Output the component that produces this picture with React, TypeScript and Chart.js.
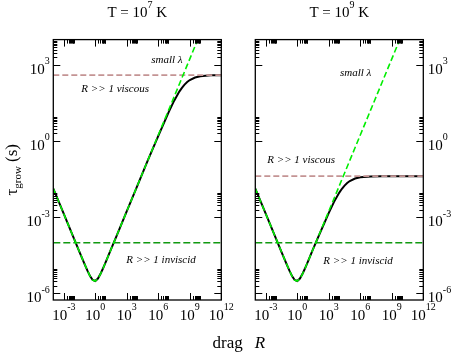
import React, { useEffect, useRef } from "react";
import { Chart, registerables } from "chart.js";

Chart.register(...registerables);

// ---------- data ----------
// drag R sample points (shared by the "small lambda" curve)
const dragR = [
  1e-4, 1e-3, 1e-2, 3.16e-2, 1e-1, 1.78e-1, 3.16e-1, 5.62e-1, 1, 1.78, 3.16, 5.62,
  10, 31.6, 100, 1e3, 1e4, 1e5, 1e6, 1e7, 1e8, 1e9, 1e10,
];
// small-lambda growth time (green dashed), same in both panels
const smallLambdaTau = [
  1.35e-2, 1.35e-3, 1.35e-4, 4.27e-5, 1.37e-5, 7.9e-6, 4.82e-6, 3.38e-6, 3.09e-6, 3.85e-6, 5.92e-6, 1.0e-5,
  1.75e-5, 5.5e-5, 1.74e-4, 1.74e-3, 1.74e-2, 0.174, 1.74, 17.4, 174, 1740, 17400,
];

// full solution, T = 1e7 K
const t7R = [
  1e-4, 1e-3, 1e-2, 3.16e-2, 1e-1, 1.78e-1, 3.16e-1, 5.62e-1, 1, 1.78, 3.16, 5.62,
  10, 31.6, 100, 1e3, 1e4, 1e5, 1e6, 1e7, 3.16e7, 1e8, 1.78e8, 3.16e8, 5.62e8, 1e9, 3.16e9, 1e10, 1e11, 1e12,
];
const t7Tau = [
  1.35e-2, 1.35e-3, 1.35e-4, 4.27e-5, 1.37e-5, 7.9e-6, 4.82e-6, 3.38e-6, 3.09e-6, 3.85e-6, 5.92e-6, 1.0e-5,
  1.75e-5, 5.5e-5, 1.74e-4, 1.74e-3, 1.74e-2, 0.174, 1.62, 14.3, 38.5, 89.3, 126, 169, 213, 255, 321, 360, 390, 396,
];

// full solution, T = 1e9 K
const t9R = [
  1e-4, 1e-3, 1e-2, 3.16e-2, 1e-1, 1.78e-1, 3.16e-1, 5.62e-1, 1, 1.78, 3.16, 5.62,
  10, 31.6, 100, 1e3, 3.16e3, 1e4, 1.78e4, 3.16e4, 5.62e4, 1e5, 3.16e5, 1e6, 1e7, 1e8, 1e12,
];
const t9Tau = [
  1.35e-2, 1.35e-3, 1.35e-4, 4.27e-5, 1.37e-5, 7.9e-6, 4.82e-6, 3.38e-6, 3.09e-6, 3.85e-6, 5.92e-6, 1.0e-5,
  1.75e-5, 5.5e-5, 1.68e-4, 1.5e-3, 4.04e-3, 9.35e-3, 1.324e-2, 1.766e-2, 2.23e-2, 2.67e-2, 3.36e-2, 3.77e-2,
  4.08e-2, 4.15e-2, 4.17e-2,
];

// asymptotic levels
const lineR = [1e-4, 1e12];
const inviscidTau = [1e-4, 1e-4];
const viscousTauT7 = [400, 400];
const viscousTauT9 = [4.17e-2, 4.17e-2];

// ticks
const xMajorTicks = [1e-3, 1, 1e3, 1e6, 1e9, 1e12];
const xTickExponents = ["-3", "0", "3", "6", "9", "12"];
const yMajorTicks = [1e-6, 1e-3, 1, 1e3];
const yTickExponents = ["-6", "-3", "0", "3"];

// ---------- styling / layout ----------
const SERIF = '"Liberation Serif", "Times New Roman", Times, serif';
const W = 452;
const H = 354;
const X_MIN = 1e-4;
const X_MAX = 1e12;
const Y_MIN = 5.5e-7;
const Y_MAX = 1e4;

type Part = { t: string; size: number; dy?: number; italic?: boolean };

function richWidth(ctx: CanvasRenderingContext2D, parts: Part[]) {
  let w = 0;
  for (const p of parts) {
    ctx.font = `${p.italic ? "italic " : ""}${p.size}px ${SERIF}`;
    w += ctx.measureText(p.t).width;
  }
  return w;
}

function drawRich(
  ctx: CanvasRenderingContext2D,
  parts: Part[],
  x: number,
  y: number,
  align: "left" | "right" | "center"
) {
  const w = richWidth(ctx, parts);
  let cx = align === "left" ? x : align === "right" ? x - w : x - w / 2;
  ctx.textAlign = "left";
  ctx.textBaseline = "alphabetic";
  for (const p of parts) {
    ctx.font = `${p.italic ? "italic " : ""}${p.size}px ${SERIF}`;
    ctx.fillText(p.t, cx, y - (p.dy || 0));
    cx += ctx.measureText(p.t).width;
  }
}

function pow10(exp: string): Part[] {
  return [
    { t: "10", size: 15 },
    { t: exp, size: 10, dy: 9.5 },
  ];
}

type Note = { text: string; x: number; y: number };

type PanelCfg = {
  titleExp: string;
  side: "left" | "right";
  padding: { left: number; right: number; top: number; bottom: number };
  blackR: number[];
  blackTau: number[];
  viscousTau: number[];
  notes: Note[];
  drawGlobal: boolean;
};

const panels: PanelCfg[] = [
  {
    titleExp: "7",
    side: "left",
    padding: { left: 53.3, right: W - 221.3, top: 39.6, bottom: H - 300 },
    blackR: t7R,
    blackTau: t7Tau,
    viscousTau: viscousTauT7,
    notes: [
      { text: "small \u03bb", x: 2.14e5, y: 1622 },
      { text: "R >> 1 viscous", x: 0.0468, y: 117 },
      { text: "R >> 1 inviscid", x: 891, y: 2.0e-5 },
    ],
    drawGlobal: true,
  },
  {
    titleExp: "9",
    side: "right",
    padding: { left: 255.3, right: W - 423.3, top: 39.6, bottom: H - 300 },
    blackR: t9R,
    blackTau: t9Tau,
    viscousTau: viscousTauT9,
    notes: [
      { text: "small \u03bb", x: 1.17e4, y: 479 },
      { text: "R >> 1 viscous", x: 1.38e-3, y: 0.186 },
      { text: "R >> 1 inviscid", x: 302, y: 1.86e-5 },
    ],
    drawGlobal: false,
  },
];

function zip(xs: number[], ys: number[]) {
  return xs.map((x, i) => ({ x, y: ys[i] }));
}

function makeFramePlugin(cfg: PanelCfg) {
  return {
    id: "frame",
    afterDatasetsDraw(chart: any) {
      const { ctx, chartArea: a, scales } = chart;
      const xs = scales.x;
      const ys = scales.y;
      ctx.save();
      ctx.strokeStyle = "#000";
      ctx.lineWidth = 1;
      const tick = (x1: number, y1: number, x2: number, y2: number) => {
        ctx.beginPath();
        ctx.moveTo(x1, y1);
        ctx.lineTo(x2, y2);
        ctx.stroke();
      };
      // x ticks (bottom and top, inward)
      for (const m of xMajorTicks) {
        const vals: [number, number][] = [[m, 7]];
        for (let k = 2; k <= 9; k++) vals.push([m * k, 4]);
        for (const [v, len] of vals) {
          if (v > X_MAX * 1.0001) continue;
          const px = Math.round(xs.getPixelForValue(v)) + 0.5;
          tick(px, a.bottom, px, a.bottom - len);
          tick(px, a.top, px, a.top + len);
        }
      }
      // y ticks (left and right, inward)
      for (const m of yMajorTicks) {
        const vals: [number, number][] = [[m, 7]];
        for (let k = 2; k <= 9; k++) vals.push([m * k, 4]);
        for (const [v, len] of vals) {
          if (v > Y_MAX * 1.0001) continue;
          const py = Math.round(ys.getPixelForValue(v)) + 0.5;
          tick(a.left, py, a.left + len, py);
          tick(a.right, py, a.right - len, py);
        }
      }
      ctx.lineWidth = 1.3;
      ctx.strokeRect(a.left, a.top, a.right - a.left, a.bottom - a.top);
      ctx.restore();
    },
    afterDraw(chart: any) {
      const { ctx, chartArea: a, scales } = chart;
      const xs = scales.x;
      const ys = scales.y;
      ctx.save();
      ctx.fillStyle = "#000";
      // x tick labels
      xMajorTicks.forEach((v, i) => {
        const px = xs.getPixelForValue(v);
        drawRich(ctx, pow10(xTickExponents[i]), px, a.bottom + 19.5, "center");
      });
      // y tick labels
      yMajorTicks.forEach((v, i) => {
        const py = ys.getPixelForValue(v);
        if (cfg.side === "left") {
          drawRich(ctx, pow10(yTickExponents[i]), a.left - 3.5, py + 8.8, "right");
        } else {
          drawRich(ctx, pow10(yTickExponents[i]), a.right + 4.5, py + 8.8, "left");
        }
      });
      // title
      drawRich(
        ctx,
        [
          { t: "T = 10", size: 15 },
          { t: cfg.titleExp, size: 10, dy: 9.5 },
          { t: " K", size: 15 },
        ],
        (a.left + a.right) / 2,
        17.3,
        "center"
      );
      // annotations (data coordinates)
      for (const n of cfg.notes) {
        ctx.font = `italic 11px ${SERIF}`;
        ctx.textAlign = "left";
        ctx.textBaseline = "middle";
        ctx.fillText(n.text, xs.getPixelForValue(n.x), ys.getPixelForValue(n.y));
      }
      if (cfg.drawGlobal) {
        // x-axis title
        ctx.textBaseline = "alphabetic";
        ctx.textAlign = "left";
        ctx.font = `17px ${SERIF}`;
        const dw = ctx.measureText("drag").width;
        ctx.font = `italic 17px ${SERIF}`;
        const rw = ctx.measureText("R").width;
        const total = dw + 12 + rw;
        const cx = 238.8 - total / 2;
        ctx.font = `17px ${SERIF}`;
        ctx.fillText("drag", cx, 348);
        ctx.font = `italic 17px ${SERIF}`;
        ctx.fillText("R", cx + dw + 12, 348);
        // y-axis title (rotated)
        ctx.save();
        ctx.translate(17, (a.top + a.bottom) / 2);
        ctx.rotate(-Math.PI / 2);
        drawRich(
          ctx,
          [
            { t: "\u03c4", size: 17 },
            { t: "grow", size: 11, dy: -4 },
            { t: " (s)", size: 17 },
          ],
          0,
          0,
          "center"
        );
        ctx.restore();
      }
      ctx.restore();
    },
  };
}

function Panel({ cfg }: { cfg: PanelCfg }) {
  const ref = useRef<HTMLCanvasElement | null>(null);
  useEffect(() => {
    if (!ref.current) return;
    const chart = new Chart(ref.current, {
      type: "line",
      data: {
        datasets: [
          {
            label: "small lambda",
            data: zip(dragR, smallLambdaTau),
            borderColor: "#00ee00",
            borderWidth: 1.6,
            borderDash: [6, 3],
            pointRadius: 0,
            fill: false,
            order: 0,
          },
          {
            label: "R >> 1 inviscid",
            data: zip(lineR, inviscidTau),
            borderColor: "#119a11",
            borderWidth: 1.5,
            borderDash: [7, 3],
            pointRadius: 0,
            fill: false,
            order: 1,
          },
          {
            label: "R >> 1 viscous",
            data: zip(lineR, cfg.viscousTau),
            borderColor: "#c49494",
            borderWidth: 1.6,
            borderDash: [6, 3],
            pointRadius: 0,
            fill: false,
            order: 1,
          },
          {
            label: "full",
            data: zip(cfg.blackR, cfg.blackTau),
            borderColor: "#000000",
            borderWidth: 2,
            pointRadius: 0,
            fill: false,
            tension: 0,
            order: 2,
          },
        ],
      },
      options: {
        animation: false,
        responsive: false,
        devicePixelRatio: 1,
        events: [],
        layout: { padding: cfg.padding },
        plugins: {
          legend: { display: false },
          tooltip: { enabled: false },
          title: { display: false },
        },
        scales: {
          x: { type: "logarithmic", min: X_MIN, max: X_MAX, display: false },
          y: { type: "logarithmic", min: Y_MIN, max: Y_MAX, display: false },
        },
      },
      plugins: [makeFramePlugin(cfg)],
    } as any);
    return () => chart.destroy();
  }, [cfg]);
  return (
    <canvas
      ref={ref}
      width={W}
      height={H}
      style={{ position: "absolute", left: 0, top: 0, width: W, height: H }}
    />
  );
}

export default function App() {
  return (
    <div
      style={{
        position: "fixed",
        left: 0,
        top: 0,
        width: W,
        height: H,
        background: "#ffffff",
        overflow: "hidden",
      }}
    >
      {panels.map((p, i) => (
        <Panel key={i} cfg={p} />
      ))}
    </div>
  );
}
